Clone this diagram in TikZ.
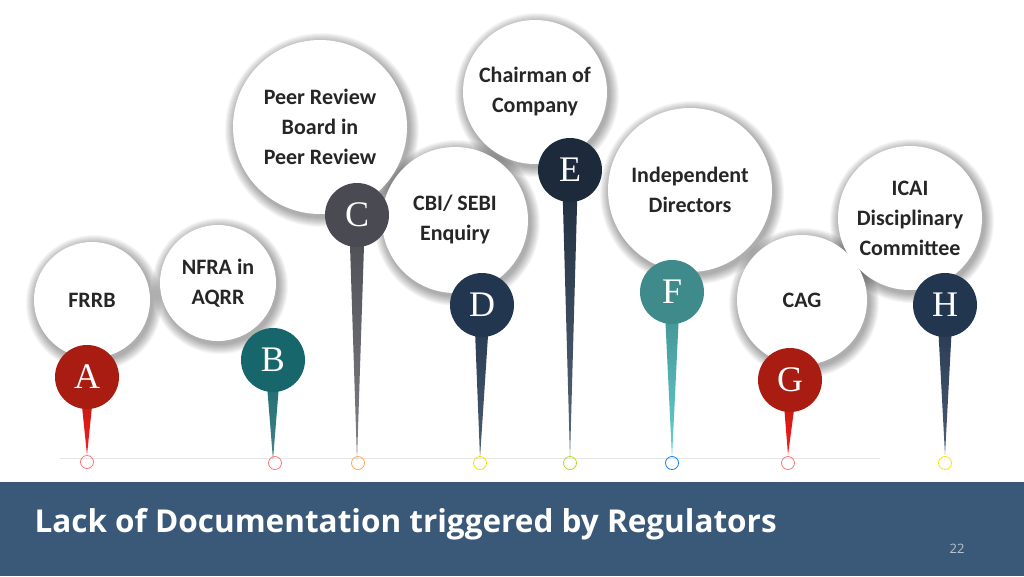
\documentclass[tikz,border=0pt]{standalone}
\usepackage{fontspec}
\setmainfont{Carlito}
\newfontfamily\banfont{Open Sans}
\newfontfamily\pinfont{Liberation Serif}
\usetikzlibrary{calc}
\definecolor{cred}{HTML}{A81C12}
\definecolor{cteal}{HTML}{17666C}
\definecolor{cgray}{HTML}{4A4A52}
\definecolor{cnavy}{HTML}{22364F}
\definecolor{cdark}{HTML}{1C2A3C}
\definecolor{cfteal}{HTML}{3F8B8C}
\definecolor{cban}{HTML}{3A5878}
\tikzset{
 bub/.style={circle,fill=white,minimum size=#1,inner sep=0pt,align=center,
   font=\fontsize{22}{30}\selectfont\bfseries,text=black!85},
 pin/.style={circle,fill=#1,minimum size=64pt,inner sep=0pt,text=white,
   font=\pinfont\fontsize{36}{36}\selectfont},
 ring/.style={circle,draw=#1,line width=0.8pt,minimum size=13pt,inner sep=0pt},
 shd/.style={black,opacity=0.035}
}
\begin{document}
\begin{tikzpicture}[x=1pt,y=-1pt]
\useasboundingbox (0,0) rectangle (1024,576);
\fill[white] (0,0) rectangle (1024,576);
\draw[black!10,line width=0.6pt] (60,458) -- (880,458);
% soft shadows
\foreach \x/\y/\r in {92/300/58,218/283/58,320/127/87,455/220/73,535/92/72,690/190/82,802/300/65,910/218/72}{
  \foreach \k in {1,...,10}{
    \fill[shd] (\x+2,\y+3) circle[radius=\r+\k];
  }
}
% bubbles
\node[bub=116pt] (b1) at (92,300) {FRRB};
\node[bub=116pt] (b2) at (218,283) {NFRA in\\AQRR};
\node[bub=174pt] (b3) at (320,127) {Peer Review\\Board in\\Peer Review};
\node[bub=146pt] (b4) at (455,220) {CBI/ SEBI\\Enquiry};
\node[bub=144pt] (b5) at (535,92) {Chairman of\\Company};
\node[bub=164pt] (b6) at (690,190) {Independent\\Directors};
\node[bub=130pt] (b7) at (802,300) {CAG};
\node[bub=144pt] (b8) at (910,218) {ICAI\\Disciplinary\\Committee};
% tips
\coordinate (t1) at (87,455); \coordinate (t2) at (273,460);
\coordinate (t3) at (357,460); \coordinate (t4) at (480,458);
\coordinate (t5) at (570,458); \coordinate (t6) at (672,458);
\coordinate (t7) at (788,455); \coordinate (t8) at (945,455);
% pin positions
\coordinate (p1) at (87,377); \coordinate (p2) at (273,360);
\coordinate (p3) at (357,215); \coordinate (p4) at (482,305);
\coordinate (p5) at (570,170); \coordinate (p6) at (672,292);
\coordinate (p7) at (790,380); \coordinate (p8) at (945,305);
\shade[top color=cred,bottom color=red!90] ($(p1)+(-8,0)$) -- ($(p1)+(8,0)$) -- (t1) -- cycle;
\shade[top color=cteal,bottom color=cteal!80] ($(p2)+(-8,0)$) -- ($(p2)+(8,0)$) -- (t2) -- cycle;
\shade[top color=cgray,bottom color=cgray!70] ($(p3)+(-8,0)$) -- ($(p3)+(8,0)$) -- (t3) -- cycle;
\shade[top color=cnavy,bottom color=cnavy!80] ($(p4)+(-8,0)$) -- ($(p4)+(8,0)$) -- (t4) -- cycle;
\shade[top color=cdark,bottom color=cnavy!75] ($(p5)+(-8,0)$) -- ($(p5)+(8,0)$) -- (t5) -- cycle;
\shade[top color=cfteal,bottom color=cfteal!55!cyan!70!white] ($(p6)+(-8,0)$) -- ($(p6)+(8,0)$) -- (t6) -- cycle;
\shade[top color=cred,bottom color=red!90] ($(p7)+(-8,0)$) -- ($(p7)+(8,0)$) -- (t7) -- cycle;
\shade[top color=cnavy,bottom color=cnavy!80] ($(p8)+(-8,0)$) -- ($(p8)+(8,0)$) -- (t8) -- cycle;
\node[pin=cred] (A) at (p1) {A};
\node[pin=cteal] (B) at (p2) {B};
\node[pin=cgray] (C) at (p3) {C};
\node[pin=cnavy] (D) at (p4) {D};
\node[pin=cdark] (E) at (p5) {E};
\node[pin=cfteal] (F) at (p6) {F};
\node[pin=cred] (G) at (p7) {G};
\node[pin=cnavy] (H) at (p8) {H};
% rings
\node[ring=red!40!pink] (r1) at (87,462) {};
\node[ring=red!40!pink] (r2) at (275,463) {};
\node[ring=orange!70] (r3) at (358,463) {};
\node[ring=yellow!80!orange] (r4) at (480,463) {};
\node[ring=yellow!70!green] (r5) at (570,463) {};
\node[ring=blue!50!cyan] (r6) at (672,463) {};
\node[ring=red!40!pink] (r7) at (788,463) {};
\node[ring=yellow!85!orange] (r8) at (945,463) {};
% banner
\fill[cban] (0,482) rectangle (1024,576);
\node[anchor=west,text=white,font=\banfont\fontsize{31.5}{34}\selectfont\bfseries] (title) at (31,524) {Lack of Documentation triggered by Regulators};
\node[text=white!65!cban,font=\banfont\fontsize{13}{15}\selectfont] (num) at (957,549) {22};
\end{tikzpicture}
\end{document}
